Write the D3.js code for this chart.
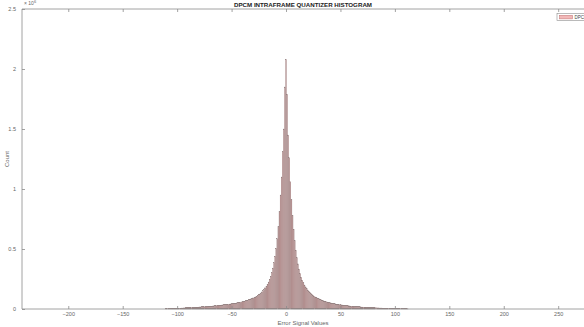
<!DOCTYPE html>
<html>
<head>
<meta charset="utf-8">
<script src="https://cdn.jsdelivr.net/npm/d3@7"></script>
<style>
  body { margin: 0; background: #fff; }
  svg { display: block; font-family: "Liberation Sans", Arial, sans-serif; }
</style>
</head>
<body>
<div id="chart"></div>
<script>
// histogram bins (error values) and counts, in thousands
const binStart = -110;
const counts = [
  2, 3, 3, 3, 4, 4, 5, 5, 5, 6,
  6, 7, 7, 7, 8, 8, 9, 9, 10, 10,
  11, 11, 12, 12, 13, 13, 14, 14, 15, 15,
  16, 17, 17, 18, 19, 19, 20, 21, 21, 22,
  23, 24, 24, 25, 26, 27, 28, 29, 30, 31,
  32, 33, 34, 35, 36, 37, 38, 39, 41, 42,
  43, 45, 46, 48, 49, 51, 53, 55, 57, 59,
  61, 63, 66, 68, 71, 74, 77, 80, 84, 88,
  92, 96, 101, 106, 112, 118, 125, 133, 142, 152,
  163, 176, 190, 206, 225, 247, 273, 304, 341, 386,
  440, 505, 585, 685, 810, 950, 1100, 1310, 1500, 1850,
  2080,
  1790, 1450, 1260, 1060, 910, 780, 665, 570, 490, 428,
  376, 333, 296, 265, 240, 218, 200, 184, 170, 158,
  147, 137, 128, 120, 113, 106, 100, 95, 90, 85,
  81, 77, 73, 70, 67, 64, 61, 58, 56, 53,
  51, 49, 47, 45, 43, 41, 40, 38, 37, 35,
  34, 33, 31, 30, 29, 28, 27, 26, 25, 24,
  23, 22, 21, 21, 20, 19, 18, 18, 17, 16,
  16, 15, 15, 14, 13, 13, 12, 12, 11, 11,
  10, 10, 10, 9, 9, 8, 8, 8, 7, 7,
  7, 6, 6, 6, 5, 5, 5, 5, 4, 4,
  4, 4, 3, 3, 3, 3, 2, 2, 2, 2, 2, 1
];
const xTicks = [-200, -150, -100, -50, 0, 50, 100, 150, 200, 250];
const yTicks = [0, 0.5, 1, 1.5, 2, 2.5];
const title = 'DPCM INTRAFRAME QUANTIZER HISTOGRAM';
const xLabel = 'Error Signal Values';
const yLabel = 'Count';
const legendLabel = 'DPCM Error';

const width = 584, height = 327;
const margin = {top: 9, right: 0, bottom: 18, left: 22};
const axisColor = '#8c8c8c';
const textColor = '#666';

const svg = d3.select('#chart').append('svg')
  .attr('width', width).attr('height', height);

const xScale = d3.scaleLinear().domain([-242.5, 273.7])
  .range([margin.left, width - margin.right]);
const yScale = d3.scaleLinear().domain([0, 2.5])
  .range([height - margin.bottom, margin.top]);

const bins = counts.map((c, i) => ({x: binStart + i, v: c / 1000}));

// bars
const bw = xScale(1) - xScale(0);
svg.append('g').selectAll('rect').data(bins).enter()
  .append('rect')
  .attr('x', (d) => xScale(d.x - 0.45))
  .attr('y', (d) => yScale(d.v))
  .attr('width', bw * 0.9)
  .attr('height', (d) => yScale(0) - yScale(d.v))
  .attr('fill', '#c09696')
  .attr('stroke', '#8a7878')
  .attr('stroke-width', 0.25);

// axes (ticks pointing inward, box on)
const x0 = margin.left, x1 = width - margin.right;
const y0 = height - margin.bottom, y1 = margin.top;

const xAxis = d3.axisBottom(xScale).tickValues(xTicks).tickSize(-3).tickPadding(3.5)
  .tickFormat(d3.format('d'));
const gx = svg.append('g').attr('transform', 'translate(0,' + y0 + ')').call(xAxis);
const xTop = d3.axisTop(xScale).tickValues(xTicks).tickSize(-3).tickFormat('');
const gxt = svg.append('g').attr('transform', 'translate(0,' + y1 + ')').call(xTop);

const yAxis = d3.axisLeft(yScale).tickValues(yTicks).tickSize(-3).tickPadding(6)
  .tickFormat((d) => d === 0 ? '0' : String(d));
const gy = svg.append('g').attr('transform', 'translate(' + x0 + ',0)').call(yAxis);

[gx, gxt, gy].forEach((g) => {
  g.select('.domain').remove();
  g.selectAll('line').attr('stroke', axisColor).attr('stroke-width', 0.8);
  g.selectAll('text').attr('fill', textColor).attr('font-size', '5.5px');
});

svg.append('path')
  .attr('d', 'M' + x1 + ',' + y1 + 'H' + x0 + 'V' + y0 + 'H' + x1)
  .attr('fill', 'none').attr('stroke', axisColor).attr('stroke-width', 0.8);

// exponent label
const expo = svg.append('text').attr('x', x0 + 2).attr('y', 5)
  .attr('font-size', '5px').attr('fill', textColor);
expo.append('tspan').text('\u00d7 10');
expo.append('tspan').attr('dy', -2).attr('font-size', '4px').text('6');

// title and labels
svg.append('text').attr('x', (x0 + x1) / 2).attr('y', 6.5)
  .attr('text-anchor', 'middle').attr('font-size', '6.2px').attr('font-weight', 'bold')
  .attr('fill', '#222').text(title);
svg.append('text').attr('x', (x0 + x1) / 2).attr('y', 324.5)
  .attr('text-anchor', 'middle').attr('font-size', '6px').attr('fill', textColor).text(xLabel);
svg.append('text')
  .attr('transform', 'translate(9,' + ((y0 + y1) / 2) + ') rotate(-90)')
  .attr('text-anchor', 'middle').attr('font-size', '6px').attr('fill', textColor).text(yLabel);

// legend (cut off by the right edge, as in the picture)
const lg = svg.append('g').attr('transform', 'translate(557,13.5)');
lg.append('rect').attr('width', 40).attr('height', 7)
  .attr('fill', '#fff').attr('stroke', axisColor).attr('stroke-width', 0.6);
lg.append('rect').attr('x', 2.5).attr('y', 1.8).attr('width', 13).attr('height', 3.6)
  .attr('fill', '#f2b8b8').attr('stroke', '#c07070').attr('stroke-width', 0.5);
lg.append('text').attr('x', 17.5).attr('y', 5.2).attr('font-size', '4.5px')
  .attr('fill', '#444').text(legendLabel);
</script>
</body>
</html>
